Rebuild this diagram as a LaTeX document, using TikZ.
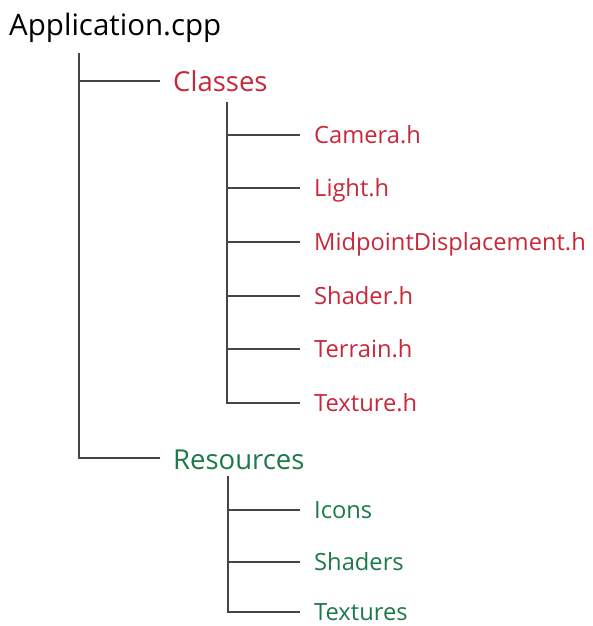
\documentclass[tikz,border=0pt]{standalone}
\usepackage{fontspec}
\setmainfont{Open Sans}
\definecolor{linegray}{HTML}{454545}
\definecolor{clsred}{HTML}{C8283A}
\definecolor{resgreen}{HTML}{1B7A4A}
\begin{document}
\begin{tikzpicture}[x=1pt,y=1pt,
  conn/.style={draw=linegray,line width=2.2pt},
  rootlbl/.style={anchor=base west,inner sep=0pt,font=\fontsize{29.5}{32}\selectfont,text=black},
  lvlone/.style={anchor=base west,inner sep=0pt,font=\fontsize{27.5}{30}\selectfont},
  lvltwo/.style={anchor=base west,inner sep=0pt,font=\fontsize{23.7}{26}\selectfont},
  red/.style={text=clsred},
  green/.style={text=resgreen}]
\useasboundingbox (0,0) rectangle (593,-626);
\node[rootlbl] (app) at (9,-36) {Application.cpp};
\node[lvlone,red] (cls) at (173,-92) {Classes};
\node[lvltwo,red] (cam) at (314,-143) {Camera.h};
\node[lvltwo,red] (lig) at (314,-196) {Light.h};
\node[lvltwo,red] (mid) at (314,-250) {MidpointDisplacement.h};
\node[lvltwo,red] (sha) at (314,-304) {Shader.h};
\node[lvltwo,red] (ter) at (314,-357) {Terrain.h};
\node[lvltwo,red] (tex) at (314,-411) {Texture.h};
\node[lvlone,green] (res) at (173,-469) {Resources};
\node[lvltwo,green] (ico) at (314,-518) {Icons};
\node[lvltwo,green] (shs) at (314,-570) {Shaders};
\node[lvltwo,green] (txs) at (314,-620) {Textures};
\coordinate (t1) at (79,-53);
\coordinate (t2) at (227,-102);
\coordinate (t3) at (228,-476);
\draw[conn] (t1) |- ([shift={(-13,11)}]res.base west);
\draw[conn] (t1) |- ([shift={(-13,11)}]cls.base west);
\foreach \n in {cam,lig,mid,sha,ter,tex}
  \draw[conn] (t2) |- ([shift={(-14,8)}]\n.base west);
\foreach \n in {ico,shs,txs}
  \draw[conn] (t3) |- ([shift={(-14,8)}]\n.base west);
\end{tikzpicture}
\end{document}
